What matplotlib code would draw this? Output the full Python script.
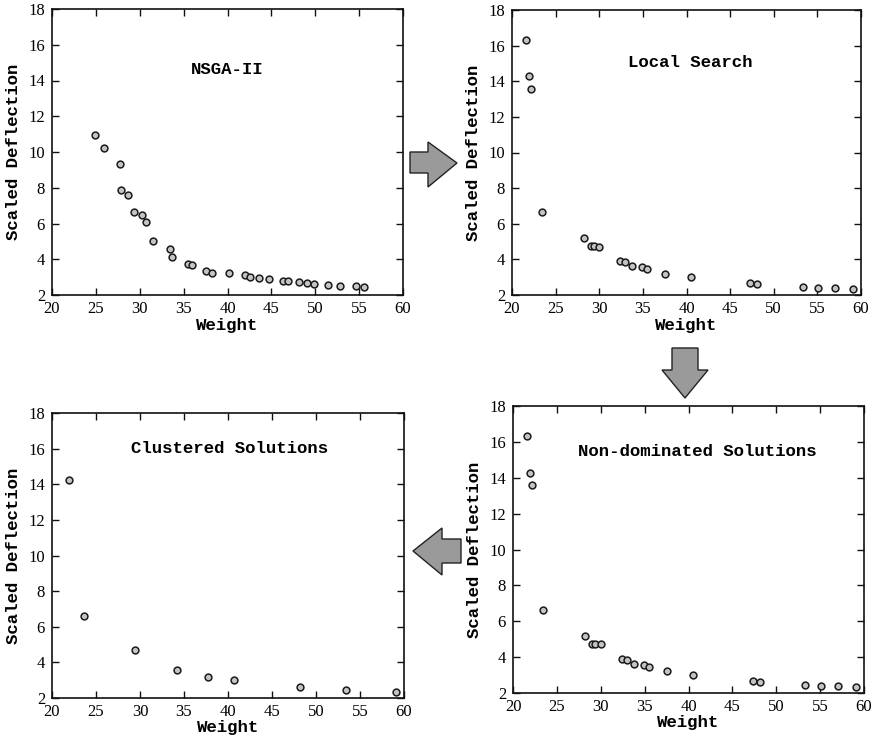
import matplotlib
matplotlib.use("Agg")
from matplotlib import pyplot as plt
from matplotlib.patches import Polygon
import numpy as np

# NSGA-II front
nsga_w = [24.9, 25.9, 27.7, 27.9, 28.7, 29.4, 30.2, 30.7, 31.5, 33.5, 33.7,
          35.5, 36.0, 37.5, 38.2, 40.2, 42.0, 42.6, 43.6, 44.7, 46.3, 46.9,
          48.1, 49.1, 49.9, 51.4, 52.8, 54.7, 55.6]
nsga_d = [10.94, 10.23, 9.32, 7.86, 7.60, 6.65, 6.50, 6.09, 5.02, 4.60, 4.11,
          3.76, 3.70, 3.33, 3.25, 3.21, 3.12, 3.01, 2.95, 2.90, 2.78, 2.78,
          2.73, 2.69, 2.63, 2.58, 2.52, 2.50, 2.45]

# after local search (also the non-dominated set)
ls_w = [21.6, 21.9, 22.2, 23.45, 28.2, 29.0, 29.4, 30.0, 32.4, 33.0, 33.8,
        34.9, 35.5, 37.5, 40.5, 47.3, 48.1, 53.3, 55.1, 57.0, 59.1]
ls_d = [16.31, 14.29, 13.58, 6.65, 5.20, 4.75, 4.75, 4.72, 3.89, 3.85, 3.63,
        3.57, 3.46, 3.20, 3.01, 2.66, 2.62, 2.45, 2.39, 2.37, 2.36]

# clustered
cl_w = [21.9, 23.6, 29.4, 34.2, 37.7, 40.7, 48.2, 53.4, 59.1]
cl_d = [14.26, 6.58, 4.71, 3.59, 3.18, 3.01, 2.60, 2.43, 2.34]

W, H = 873, 744
fig = plt.figure(figsize=(W / 100, H / 100), dpi=100)

mono = 'Liberation Mono'
serif = 'Liberation Serif'


def px_axes(l, r, t, b):
    return fig.add_axes([l / W, 1 - b / H, (r - l) / W, (b - t) / H])


def panel(ax, x, y, title, tx, ty, xlab_pad):
    ax.scatter(x, y, s=24, facecolors='#c4c4c4', edgecolors='#1a1a1a',
               linewidths=1.1, zorder=3)
    ax.set_xlim(20, 60)
    ax.set_ylim(2, 18)
    ax.set_xticks(np.arange(20, 61, 5))
    ax.set_yticks(np.arange(2, 19, 2))
    ax.tick_params(direction='in', top=True, right=True, length=5,
                   width=1.0, labelsize=12, color='#111')
    ax.tick_params(axis='x', pad=4)
    ax.tick_params(axis='y', pad=5)
    for lab in ax.get_xticklabels() + ax.get_yticklabels():
        lab.set_family(serif)
    for s in ax.spines.values():
        s.set_linewidth(1.2)
        s.set_color('#111')
    ax.set_xlabel('Weight', family=mono, fontweight='bold', fontsize=12.5,
                  labelpad=xlab_pad)
    ax.set_ylabel('Scaled Deflection', family=mono, fontweight='bold',
                  fontsize=12.5, labelpad=5)
    ax.text(tx, ty, title, transform=ax.transAxes, ha='center', va='center',
            family=mono, fontweight='bold', fontsize=12.5)


ax1 = px_axes(52, 403, 9, 295)
panel(ax1, nsga_w, nsga_d, 'NSGA-II', 0.5, 0.79, 1)
ax2 = px_axes(512, 861, 10, 295)
panel(ax2, ls_w, ls_d, 'Local Search', 0.51, 0.816, 1)
ax3 = px_axes(52, 404, 413, 698)
panel(ax3, cl_w, cl_d, 'Clustered Solutions', 0.505, 0.875, 0)
ax4 = px_axes(513, 864, 406, 693)
panel(ax4, ls_w, ls_d, 'Non-dominated Solutions', 0.525, 0.84, 0)


def arrow(pts):
    p = Polygon([(x / W, 1 - y / H) for x, y in pts], closed=True,
                transform=fig.transFigure, facecolor='#9a9a9a',
                edgecolor='#222', linewidth=1.0)
    fig.patches.append(p)


# right arrow between top panels
arrow([(410, 152), (428, 152), (428, 142), (457, 163), (428, 187),
       (428, 173), (410, 173)])
# down arrow above bottom-right panel
arrow([(672, 348), (698, 348), (698, 370), (708, 370), (685, 398),
       (662, 370), (672, 370)])
# left arrow between bottom panels
arrow([(461, 539), (442, 539), (442, 528), (413, 551), (442, 575),
       (442, 563), (461, 563)])

fig.savefig('out.png', dpi=100, facecolor='white')
